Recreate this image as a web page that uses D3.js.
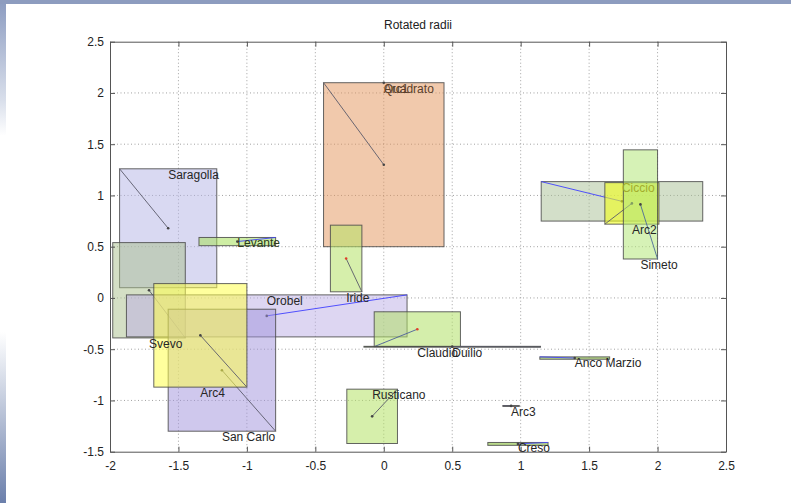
<!DOCTYPE html>
<html>
<head>
<meta charset="utf-8">
<script src="https://cdn.jsdelivr.net/npm/d3@7"></script>
<style>
  html, body { margin: 0; padding: 0; background: #fff; }
  svg { display: block; font-family: "Liberation Sans", Arial, Helvetica, sans-serif; }
</style>
</head>
<body>
<svg id="chart" width="791" height="503"></svg>
<script>
// ---- data ----
const title = "Rotated radii";
const xTickValues = [-2, -1.5, -1, -0.5, 0, 0.5, 1, 1.5, 2, 2.5];
const xTickLabels = ["-2", "-1.5", "-1", "-0.5", "0", "0.5", "1", "1.5", "2", "2.5"];
const yTickValues = [-1.5, -1, -0.5, 0, 0.5, 1, 1.5, 2, 2.5];
const yTickLabels = ["-1.5", "-1", "-0.5", "0", "0.5", "1", "1.5", "2", "2.5"];

const names   = ["Saragolla","Svevo","Levante","Orobel","San Carlo","Arc4","Quadrato","Arc1","Iride","Claudio","Duilio","Anco Marzio","Arc3","Creso","Rusticano","Ciccio","Arc2","Simeto"];
const xMin    = [-1.93, -1.98, -1.35, -1.88, -1.575, -1.68, -0.44, 0.00, -0.39, -0.07, -0.145, 1.14, 0.87, 0.76, -0.27, 1.15, 1.615, 1.75];
const xMax    = [-1.22, -1.45, -0.79,  0.17, -0.79,  -1.00,  0.44, 0.00, -0.16,  0.56,  1.145, 1.65, 0.99, 1.20,  0.10, 2.33, 2.01,  2.00];
const yMin    = [ 0.10, -0.39,  0.51, -0.38, -1.30,  -0.87,  0.50, 2.10,  0.06, -0.475, -0.478, -0.598, -1.056, -1.438, -1.42, 0.75, 0.72, 0.38];
const yMax    = [ 1.26,  0.54,  0.59,  0.03, -0.11,   0.14,  2.10, 2.10,  0.71, -0.135, -0.472, -0.575, -1.050, -1.410, -0.89, 1.135, 1.125, 1.445];
const radiusCorner = ["tl","br","tr","tr","br","br","tl","tl","br","bl","br","tl","tl","tr","tr","tl","bl","br"];

// ---- styles (not data) ----
const fillStyle = {
  "Saragolla": ["#b3b3e6", 0.5], "Svevo": ["#a9bf8c", 0.5], "Levante": ["#a6e05a", 0.55],
  "Orobel": ["#bcaee6", 0.5], "Arc4": ["#ffff4d", 0.55], "San Carlo": ["#a092db", 0.5],
  "Quadrato": ["#e4935a", 0.5], "Arc1": ["#ffffff", 0], "Iride": ["#b4e266", 0.55],
  "Claudio": ["#b0e066", 0.55], "Duilio": ["#5a7a3a", 0.8], "Anco Marzio": ["#9ccc5a", 0.7],
  "Arc3": ["#333333", 0.8], "Creso": ["#9ccc5a", 0.7], "Rusticano": ["#b4e266", 0.55],
  "Ciccio": ["#a8bf94", 0.5], "Arc2": ["#f2ff1a", 0.6], "Simeto": ["#b4e87a", 0.55]
};
const radiusColor = {
  "Orobel": "#3f3fff", "Ciccio": "#3f3fff", "Levante": "#3f3fff", "Anco Marzio": "#4848ff",
  "Creso": "#4848ff", "Claudio": "#4d5f9a", "Simeto": "#4d6a9a"
};
const dotColor = { "Iride": "#e0402a", "Claudio": "#e0402a" };
const labelColor = { "Ciccio": "#a2ad2c", "Quadrato": "#5a3e2a", "Arc1": "#5a3e2a", "Levante": "#2a3a1a" };

// ---- layout ----
const svg = d3.select("#chart");
const L = 110, R = 726, T = 41.7, B = 451.7;
const x = d3.scaleLinear().domain([-2, 2.5]).range([L, R]);
const y = d3.scaleLinear().domain([-1.5, 2.5]).range([B, T]);

// window frame (blue strips)
const defs = svg.append("defs");
const g1 = defs.append("linearGradient").attr("id", "frameGrad").attr("x1", 0).attr("y1", 0).attr("x2", 0).attr("y2", 1);
[[0, "#8b9bc0"], [0.2, "#d9dfeb"], [0.27, "#ffffff"], [0.66, "#ffffff"], [0.74, "#dde2ec"], [1, "#6b7fab"]]
  .forEach(([o, c]) => g1.append("stop").attr("offset", o).attr("stop-color", c));
svg.append("rect").attr("x", 0).attr("y", 0).attr("width", 791).attr("height", 503).attr("fill", "#fff");
svg.append("rect").attr("x", 0).attr("y", 0).attr("width", 6).attr("height", 503).attr("fill", "url(#frameGrad)");
svg.append("rect").attr("x", 0).attr("y", 0).attr("width", 791).attr("height", 4).attr("fill", "#8d9cbf");

// grid
const grid = svg.append("g");
xTickValues.slice(1, -1).forEach(v => grid.append("line")
  .attr("x1", x(v)).attr("x2", x(v)).attr("y1", T).attr("y2", B)
  .attr("stroke", "#8a8a8a").attr("stroke-width", 0.8).attr("stroke-dasharray", "1,2.5"));
yTickValues.slice(1, -1).forEach(v => grid.append("line")
  .attr("x1", L).attr("x2", R).attr("y1", y(v)).attr("y2", y(v))
  .attr("stroke", "#8a8a8a").attr("stroke-width", 0.8).attr("stroke-dasharray", "1,2.5"));

// objects
const plot = svg.append("g");
const labels = svg.append("g");
names.forEach((n, i) => {
  const x0 = x(xMin[i]), x1 = x(xMax[i]), yT = y(yMax[i]), yB = y(yMin[i]);
  const cx = (x0 + x1) / 2, cy = (yT + yB) / 2;
  const [fc, fo] = fillStyle[n];
  if (x1 - x0 > 0) {
    plot.append("rect").attr("x", x0).attr("y", yT).attr("width", x1 - x0).attr("height", Math.max(yB - yT, 0.8))
      .attr("fill", fc).attr("fill-opacity", fo)
      .attr("stroke", "#4a4a4a").attr("stroke-opacity", 0.85).attr("stroke-width", 1);
  }
  const c = radiusCorner[i];
  const px = c[1] === "l" ? x0 : x1;
  const py = c[0] === "t" ? yT : yB;
  plot.append("line").attr("x1", cx).attr("y1", cy).attr("x2", px).attr("y2", py)
    .attr("stroke", radiusColor[n] || "#5a5a6a").attr("stroke-width", 0.9);
  plot.append("circle").attr("cx", cx).attr("cy", cy).attr("r", 1.3)
    .attr("fill", dotColor[n] || "#444");
  labels.append("text").attr("x", cx).attr("y", py + 10)
    .attr("font-size", 12).attr("fill", labelColor[n] || "#262626").text(n);
});

// axes box & ticks
const axB = d3.axisBottom(x).tickValues(xTickValues).tickFormat((d, i) => xTickLabels[i]).tickSizeInner(-5).tickSizeOuter(0).tickPadding(10);
const axT = d3.axisTop(x).tickValues(xTickValues).tickFormat("").tickSizeInner(-5).tickSizeOuter(0);
const axL = d3.axisLeft(y).tickValues(yTickValues).tickFormat((d, i) => yTickLabels[i]).tickSizeInner(-5).tickSizeOuter(0).tickPadding(6);
const axR = d3.axisRight(y).tickValues(yTickValues).tickFormat("").tickSizeInner(-5).tickSizeOuter(0);
function styleAxis(g) {
  g.selectAll("path").attr("stroke", "#555");
  g.selectAll("line").attr("stroke", "#555");
  g.selectAll("text").attr("fill", "#222").attr("font-size", 12).style("font-family", "'Liberation Sans', Arial, sans-serif");
}
svg.append("g").attr("transform", `translate(0,${B})`).call(axB).call(styleAxis);
svg.append("g").attr("transform", `translate(0,${T})`).call(axT).call(styleAxis);
svg.append("g").attr("transform", `translate(${L},0)`).call(axL).call(styleAxis);
svg.append("g").attr("transform", `translate(${R},0)`).call(axR).call(styleAxis);

// title
svg.append("text").attr("x", (L + R) / 2).attr("y", 29).attr("text-anchor", "middle")
  .attr("font-size", 12).attr("fill", "#222").text(title);
</script>
</body>
</html>
